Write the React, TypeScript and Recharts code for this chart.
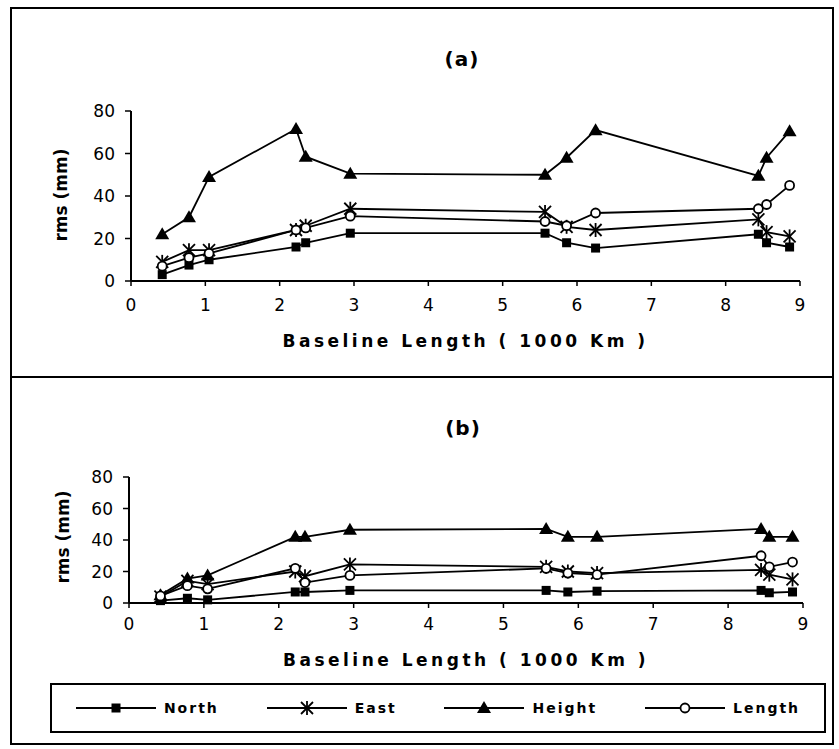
import React from "react";
import { LineChart, Line, XAxis, YAxis, Legend, Label } from "recharts";

// baseline lengths (1000 km), shared by both panels
const baselineKm = [0.42, 0.78, 1.05, 2.22, 2.35, 2.95, 5.57, 5.86, 6.25, 8.44, 8.55, 8.86];

// panel (a)
const northA = [3, 7.5, 10, 16, 18, 22.5, 22.5, 18, 15.5, 22, 18, 16];
const eastA = [9, 14.5, 14.5, 24, 26, 34, 32.5, 25.5, 24, 29, 23, 21];
const heightA = [22, 30, 49, 71.5, 58.5, 50.5, 50, 58, 71, 49.5, 58, 70.5];
const lengthA = [7, 11, 13, 24, 25, 30.5, 28, 26, 32, 34, 36, 45];

// panel (b)
const northB = [1.5, 3, 2, 7, 7, 8, 8, 7, 7.5, 8, 6.5, 7];
const eastB = [4, 14, 12, 20, 17, 24.5, 23, 20, 19, 21, 18, 15];
const heightB = [5, 15.5, 17.5, 42, 42, 46.5, 47, 42, 42, 47, 42, 42];
const lengthB = [4.5, 11, 9, 22, 13, 17.5, 22, 19, 18, 30, 23, 26];

const xTicks = [0, 1, 2, 3, 4, 5, 6, 7, 8, 9];
const yTicks = [0, 20, 40, 60, 80];

const FONT = "'DejaVu Sans', sans-serif";

const buildRows = (north: number[], east: number[], height: number[], length: number[]) =>
  baselineKm.map((x, i) => ({ x, north: north[i], east: east[i], height: height[i], length: length[i] }));

const rowsA = buildRows(northA, eastA, heightA, lengthA);
const rowsB = buildRows(northB, eastB, heightB, lengthB);

// ── marker shapes ──
const SquareDot = (p: any) =>
  p.cx == null ? null : <rect key={p.key} x={p.cx - 4.5} y={p.cy - 4.5} width={9} height={9} fill="#000" />;

const StarDot = (p: any) => {
  if (p.cx == null) return null;
  const { cx, cy } = p;
  return (
    <g key={p.key} stroke="#000" strokeWidth={1.8}>
      <line x1={cx - 6} y1={cy - 6} x2={cx + 6} y2={cy + 6} />
      <line x1={cx - 6} y1={cy + 6} x2={cx + 6} y2={cy - 6} />
      <line x1={cx} y1={cy - 7} x2={cx} y2={cy + 7} />
    </g>
  );
};

const TriangleDot = (p: any) =>
  p.cx == null ? null : (
    <polygon key={p.key} points={`${p.cx},${p.cy - 7} ${p.cx + 7},${p.cy + 5} ${p.cx - 7},${p.cy + 5}`} fill="#000" />
  );

const CircleDot = (p: any) =>
  p.cx == null ? null : <circle key={p.key} cx={p.cx} cy={p.cy} r={4.5} fill="#fff" stroke="#000" strokeWidth={1.8} />;

const SERIES = [
  { key: "north", name: "North", Dot: SquareDot },
  { key: "east", name: "East", Dot: StarDot },
  { key: "height", name: "Height", Dot: TriangleDot },
  { key: "length", name: "Length", Dot: CircleDot },
];

const tickStyle = { fill: "#000", fontSize: 17, fontFamily: FONT };

const LegendBox = () => (
  <div
    style={{
      width: 776,
      height: 50,
      border: "2px solid #000",
      boxSizing: "border-box",
      display: "flex",
      alignItems: "center",
      justifyContent: "space-around",
      fontFamily: FONT,
      fontWeight: "bold",
      fontSize: 14,
      letterSpacing: 2,
    }}
  >
    {SERIES.map((s) => (
      <div key={s.key} style={{ display: "flex", alignItems: "center" }}>
        <svg width={80} height={16}>
          <line x1={0} y1={8} x2={80} y2={8} stroke="#000" strokeWidth={1.8} />
          {s.Dot({ cx: 40, cy: 8, key: s.key })}
        </svg>
        <span style={{ marginLeft: 8 }}>{s.name}</span>
      </div>
    ))}
  </div>
);

const Panel = ({ rows, height, margin, tickMargin, labelOffset, withLegend }: any) => (
  <LineChart width={839} height={height} data={rows} margin={margin}>
    <XAxis
      dataKey="x"
      type="number"
      domain={[0, 9]}
      ticks={xTicks}
      height={30}
      tick={tickStyle}
      tickSize={5}
      tickMargin={tickMargin}
      axisLine={{ stroke: "#000", strokeWidth: 2 }}
      tickLine={{ stroke: "#000", strokeWidth: 1.5 }}
    >
      <Label
        value="Baseline Length ( 1000 Km )"
        position="bottom"
        offset={labelOffset}
        fill="#000"
        fontSize={17}
        fontWeight="bold"
        fontFamily={FONT}
        letterSpacing={3.5}
      />
    </XAxis>
    <YAxis
      type="number"
      domain={[0, 80]}
      ticks={yTicks}
      width={40}
      tick={tickStyle}
      tickSize={6}
      tickMargin={10}
      axisLine={{ stroke: "#000", strokeWidth: 2 }}
      tickLine={{ stroke: "#000", strokeWidth: 1.5 }}
    />
    {SERIES.map((s) => (
      <Line
        key={s.key}
        dataKey={s.key}
        name={s.name}
        type="linear"
        stroke="#000"
        strokeWidth={1.8}
        dot={s.Dot}
        activeDot={false}
        isAnimationActive={false}
      />
    ))}
    {withLegend && (
      <Legend
        layout="horizontal"
        verticalAlign="middle"
        align="center"
        content={() => <LegendBox />}
        wrapperStyle={{ left: 50, top: 306, width: 776, height: 50 }}
      />
    )}
  </LineChart>
);

const abs = (left: number, top: number, extra: React.CSSProperties = {}): React.CSSProperties => ({
  position: "absolute",
  left,
  top,
  ...extra,
});

const titleStyle: React.CSSProperties = {
  fontFamily: FONT,
  fontWeight: "bold",
  fontSize: 20,
  letterSpacing: 1,
};

const rmsStyle: React.CSSProperties = {
  fontFamily: FONT,
  fontWeight: "bold",
  fontSize: 17,
  transform: "translate(-50%, -50%) rotate(-90deg)",
  whiteSpace: "nowrap",
};

export default function App() {
  return (
    <div style={abs(0, 0, { width: 839, height: 749, background: "#fff", overflow: "hidden" })}>
      {/* outer frame and panel divider */}
      <div style={abs(10, 7, { width: 824, height: 738, border: "2px solid #000", boxSizing: "border-box" })} />
      <div style={abs(10, 376, { width: 824, height: 2, background: "#000" })} />

      <div style={abs(0, 0)}>
        <Panel
          rows={rowsA}
          height={377}
          margin={{ top: 111, right: 39, left: 91, bottom: 66 }}
          tickMargin={13}
          labelOffset={24}
        />
      </div>
      <div style={abs(0, 377)}>
        <Panel
          rows={rowsB}
          height={372}
          margin={{ top: 100, right: 36, left: 89, bottom: 116 }}
          tickMargin={10}
          labelOffset={21}
          withLegend
        />
      </div>

      <div style={abs(462, 59, { ...titleStyle, transform: "translate(-50%, -50%)" })}>(a)</div>
      <div style={abs(463, 428, { ...titleStyle, transform: "translate(-50%, -50%)" })}>(b)</div>
      <div style={abs(61, 195, rmsStyle)}>rms (mm)</div>
      <div style={abs(63, 537, rmsStyle)}>rms (mm)</div>
    </div>
  );
}
